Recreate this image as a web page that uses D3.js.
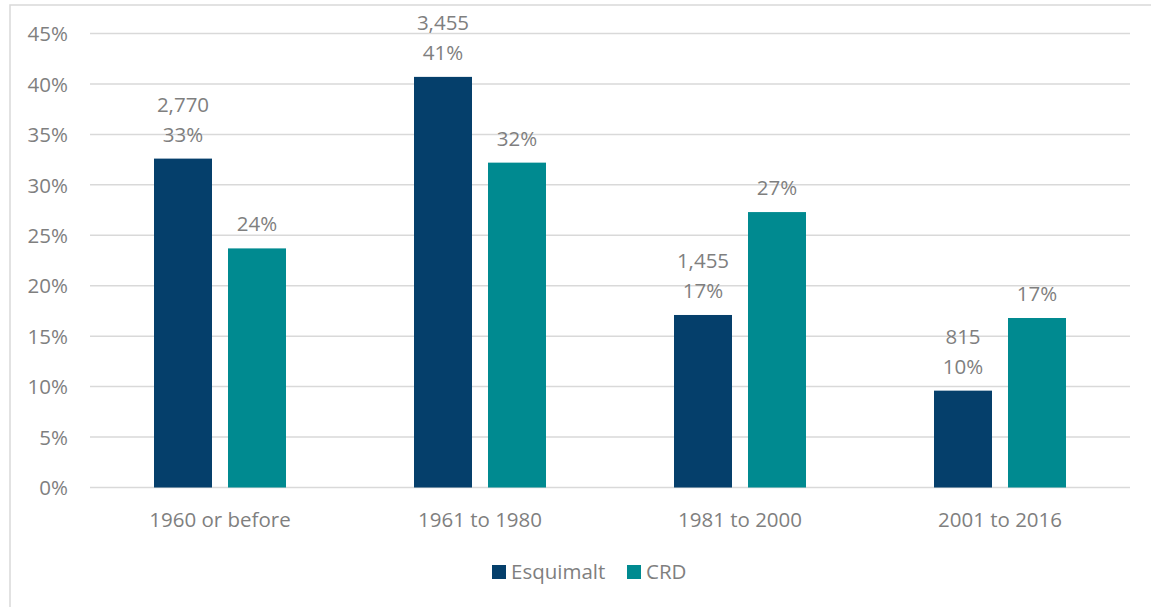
<!DOCTYPE html>
<html><head><meta charset="utf-8">
<script src="https://cdn.jsdelivr.net/npm/d3@7"></script>
<style>body{margin:0;background:#fff;} svg{display:block;}</style>
</head><body>
<svg id="c" width="1151" height="607"></svg>
<script>
const categories = ["1960 or before","1961 to 1980","1981 to 2000","2001 to 2016"];
const seriesNames = ["Esquimalt","CRD"];
const esquimaltPct = [32.6, 40.7, 17.1, 9.6];
const esquimaltCount = [2770, 3455, 1455, 815];
const crdPct = [23.7, 32.2, 27.3, 16.8];
const yTicks = [0,5,10,15,20,25,30,35,40,45];
const colors = ["#053f6b","#008a90"];

(function(){
const svg = d3.select("#c");
const font = "'Open Sans', sans-serif";
const fs = 20.5;
const textColor = "#7f7f7f";
const pLeft = 90, pRight = 1130, pTop = 33.5, pBottom = 487.5;

svg.append("rect").attr("x",10).attr("y",5).attr("width",1160).attr("height",620)
  .attr("fill","none").attr("stroke","#d9d9d9").attr("stroke-width",1.5);

const x0 = d3.scaleBand().domain(categories).range([pLeft,pRight]).paddingInner(0).paddingOuter(0);
const y = d3.scaleLinear().domain([0,45]).range([pBottom,pTop]);
const bw = 58, gap = 16;

svg.append("g").selectAll("line").data(yTicks).join("line")
  .attr("x1",pLeft).attr("x2",pRight)
  .attr("y1",d=>y(d)).attr("y2",d=>y(d))
  .attr("stroke","#d9d9d9").attr("stroke-width",1.5);

const yAxis = d3.axisLeft(y).tickValues(yTicks).tickFormat(d=>d+"%").tickSize(0).tickPadding(0);
const ya = svg.append("g").attr("transform",`translate(68,0)`).call(yAxis);
ya.select(".domain").remove();
ya.selectAll("text").attr("font-family",font).attr("font-size",fs).attr("fill",textColor).attr("dy","0.35em");

const xAxis = d3.axisBottom(x0).tickSize(0).tickPadding(0);
const xa = svg.append("g").attr("transform",`translate(0,${pBottom+32})`).call(xAxis);
xa.select(".domain").remove();
xa.selectAll("text").attr("font-family",font).attr("font-size",fs).attr("fill",textColor).attr("dy","0.35em");

const cx = c => x0(c) + x0.bandwidth()/2;
const data = categories.map((c,i)=>({c, e:esquimaltPct[i], n:esquimaltCount[i], r:crdPct[i]}));

svg.append("g").selectAll("rect").data(data).join("rect")
  .attr("x",d=>cx(d.c)-gap/2-bw).attr("width",bw)
  .attr("y",d=>y(d.e)).attr("height",d=>pBottom-y(d.e))
  .attr("fill",colors[0]);
svg.append("g").selectAll("rect").data(data).join("rect")
  .attr("x",d=>cx(d.c)+gap/2).attr("width",bw)
  .attr("y",d=>y(d.r)).attr("height",d=>pBottom-y(d.r))
  .attr("fill",colors[1]);

const fmt = d3.format(",");
const lbl = svg.append("g").attr("font-family",font).attr("font-size",fs).attr("fill",textColor).attr("text-anchor","middle");
data.forEach(d=>{
  const ex = cx(d.c)-gap/2-bw/2;
  lbl.append("text").attr("x",ex).attr("y",y(d.e)-17).text(Math.round(d.e)+"%");
  lbl.append("text").attr("x",ex).attr("y",y(d.e)-47).text(fmt(d.n));
  const rx = cx(d.c)+gap/2+bw/2;
  lbl.append("text").attr("x",rx).attr("y",y(d.r)-17).text(Math.round(d.r)+"%");
});

const lg = svg.append("g").attr("font-family",font).attr("font-size",fs).attr("fill",textColor);
const legX = [492, 627];
seriesNames.forEach((s,i)=>{
  lg.append("rect").attr("x",legX[i]).attr("y",565).attr("width",14).attr("height",14).attr("fill",colors[i]);
  lg.append("text").attr("x",legX[i]+19).attr("y",572).attr("dy","0.35em").text(s);
});
})();
</script>
</body></html>
